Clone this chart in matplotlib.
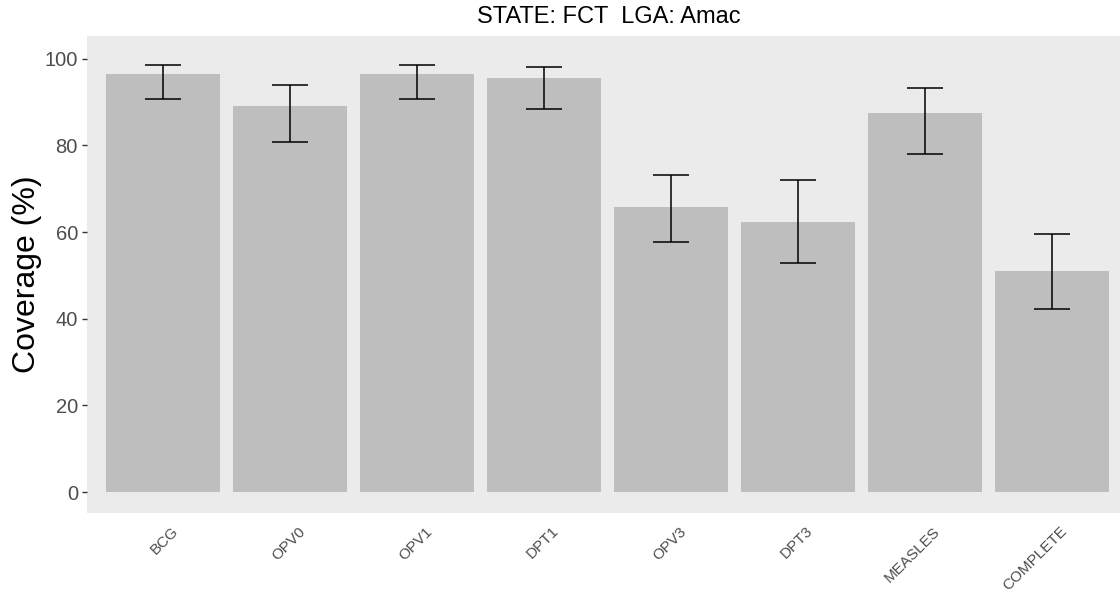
import matplotlib.pyplot as plt
import matplotlib.transforms as mtransforms
import numpy as np

# vaccine coverage
vaccines = ["BCG", "OPV0", "OPV1", "DPT1", "OPV3", "DPT3", "MEASLES", "COMPLETE"]
coverage = [96.4, 89.0, 96.4, 95.5, 65.7, 62.4, 87.5, 51.1]
ci_low = [90.7, 80.8, 90.7, 88.3, 57.7, 52.8, 78.1, 42.2]
ci_high = [98.4, 93.8, 98.4, 98.1, 73.2, 71.9, 93.3, 59.5]

plt.rcParams['font.family'] = ['Liberation Sans', 'DejaVu Sans']

fig = plt.figure(figsize=(11.2, 6), dpi=100)
# panel runs a little past the right edge, as in the reference
ax = fig.add_axes([87 / 1120, 1 - 513 / 600, 1041 / 1120, 477 / 600])

x = np.arange(1, len(vaccines) + 1)
cov = np.array(coverage)
err = [cov - np.array(ci_low), np.array(ci_high) - cov]

ax.bar(x, cov, width=0.9, color="#BEBEBE", zorder=2)
ax.errorbar(x, cov, yerr=err, fmt="none", ecolor="black", elinewidth=1.1,
            capsize=12.8, capthick=1.1, zorder=3)

ax.set_facecolor("#EBEBEB")
for s in ax.spines.values():
    s.set_visible(False)

ax.set_xlim(0.4, 8.6)
ax.set_ylim(-4.8, 105.2)
ax.set_yticks([0, 20, 40, 60, 80, 100])
ax.tick_params(axis="y", labelsize=14.5, labelcolor="#4D4D4D", color="#333333",
               length=3.5, width=1, pad=3)
ax.set_xticks(x)
ax.set_xticklabels(vaccines, rotation=45, ha="right", rotation_mode="anchor",
                   fontsize=11, color="#4D4D4D")
ax.tick_params(axis="x", length=0, pad=8)
# nudge the slanted labels right so their ends sit just past the bar centre
shift = mtransforms.ScaledTranslation(8 / 100, 0, fig.dpi_scale_trans)
for lbl in ax.get_xticklabels():
    lbl.set_transform(lbl.get_transform() + shift)

ax.set_ylabel("Coverage (%)", fontsize=23, labelpad=2)
fig.text(609 / 1120, 1 - 17 / 600, "STATE: FCT  LGA: Amac", ha="center",
         va="center", fontsize=17)

fig.savefig("out.png", dpi=100)
